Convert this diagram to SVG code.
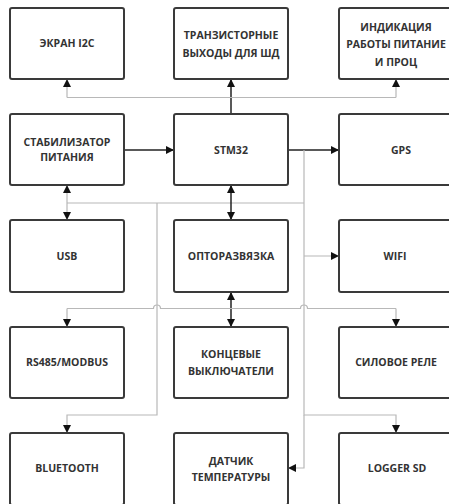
<svg xmlns="http://www.w3.org/2000/svg" width="449" height="504" viewBox="0 0 449 504">
<defs>
<marker id="ah" viewBox="0 0 10 10" refX="10" refY="5" markerWidth="8" markerHeight="8" markerUnits="userSpaceOnUse" orient="auto-start-reverse">
<path d="M0,0 L10,5 L0,10 Z" fill="#111"/>
</marker>
<style>
.box{fill:#fff;stroke:#3a3a3a;stroke-width:2}
.t{font-family:"Open Sans","Liberation Sans",sans-serif;font-weight:bold;font-size:10.5px;fill:#333;text-anchor:middle}
.dk{fill:none;stroke:#222;stroke-width:1.5}
.gr{fill:none;stroke:#b8b8b8;stroke-width:1.2}
</style>
</defs>
<rect width="449" height="504" fill="#fff"/>
<g id="connectors">
<path class="dk" d="M231,114 V79" marker-end="url(#ah)"/>
<path class="gr" d="M67,97.5 H396"/>
<path class="gr" d="M67,97.5 V79" marker-end="url(#ah)"/>
<path class="gr" d="M396,97.5 V79" marker-end="url(#ah)"/>
<path class="dk" d="M124,150 H174" marker-end="url(#ah)"/>
<path class="dk" d="M288,150 H339" marker-end="url(#ah)"/>
<path class="gr" d="M304,150 V415 H396 V433" marker-end="url(#ah)"/>
<path class="gr" d="M304,415 V468 H288" marker-end="url(#ah)"/>
<path class="gr" d="M304,256 H339" marker-end="url(#ah)"/>
<path class="gr" d="M67,203 H304"/>
<path class="gr" d="M67,203 V185" marker-end="url(#ah)"/>
<path class="gr" d="M67,203 V220" marker-end="url(#ah)"/>
<path class="gr" d="M157,203 V415 H67 V433" marker-end="url(#ah)"/>
<path class="dk" d="M231,185 V220" marker-start="url(#ah)" marker-end="url(#ah)"/>
<path class="dk" d="M231,292 V327" marker-start="url(#ah)" marker-end="url(#ah)"/>
<path class="gr" d="M67,308.5 H153.5 A3.5,3.5 0 0 1 160.5,308.5 H300.5 A3.5,3.5 0 0 1 307.5,308.5 H396"/>
<path class="gr" d="M67,308.5 V327" marker-end="url(#ah)"/>
<path class="gr" d="M396,308.5 V327" marker-end="url(#ah)"/>
</g>
<g id="n_ekran"><rect class="box" x="10" y="8" width="114" height="71" rx="2"/><text class="t" x="67" y="47">ЭКРАН I2C</text></g>
<g id="n_tranz"><rect class="box" x="174" y="8" width="114" height="71" rx="2"/><text class="t" x="231" y="39">ТРАНЗИСТОРНЫЕ</text><text class="t" x="231" y="56.5">ВЫХОДЫ ДЛЯ ШД</text></g>
<g id="n_indik"><rect class="box" x="339" y="8" width="114" height="71" rx="2"/><text class="t" x="396" y="30.5">ИНДИКАЦИЯ</text><text class="t" x="396" y="48">РАБОТЫ ПИТАНИЕ</text><text class="t" x="396" y="65.5">И ПРОЦ</text></g>
<g id="n_stab"><rect class="box" x="10" y="114" width="114" height="71" rx="2"/><text class="t" x="67" y="145.5">СТАБИЛИЗАТОР</text><text class="t" x="67" y="160.5">ПИТАНИЯ</text></g>
<g id="n_stm"><rect class="box" x="174" y="114" width="114" height="71" rx="2"/><text class="t" x="231" y="153.5">STM32</text></g>
<g id="n_gps"><rect class="box" x="339" y="114" width="114" height="71" rx="2"/><text class="t" x="401" y="153.5">GPS</text></g>
<g id="n_usb"><rect class="box" x="10" y="220" width="114" height="72" rx="2"/><text class="t" x="67" y="259.5">USB</text></g>
<g id="n_opto"><rect class="box" x="174" y="220" width="114" height="72" rx="2"/><text class="t" x="231" y="259.5">ОПТОРАЗВЯЗКА</text></g>
<g id="n_wifi"><rect class="box" x="339" y="220" width="114" height="72" rx="2"/><text class="t" x="395" y="259.5">WIFI</text></g>
<g id="n_rs485"><rect class="box" x="10" y="327" width="114" height="71" rx="2"/><text class="t" x="67" y="366">RS485/MODBUS</text></g>
<g id="n_konc"><rect class="box" x="174" y="327" width="114" height="71" rx="2"/><text class="t" x="231" y="358">КОНЦЕВЫЕ</text><text class="t" x="231" y="374.5">ВЫКЛЮЧАТЕЛИ</text></g>
<g id="n_rele"><rect class="box" x="339" y="327" width="114" height="71" rx="2"/><text class="t" x="396" y="366">СИЛОВОЕ РЕЛЕ</text></g>
<g id="n_bt"><rect class="box" x="10" y="433" width="114" height="72" rx="2"/><text class="t" x="67" y="472">BLUETOOTH</text></g>
<g id="n_temp"><rect class="box" x="174" y="433" width="114" height="72" rx="2"/><text class="t" x="231" y="464.5">ДАТЧИК</text><text class="t" x="231" y="481">ТЕМПЕРАТУРЫ</text></g>
<g id="n_sd"><rect class="box" x="339" y="433" width="114" height="72" rx="2"/><text class="t" x="397" y="472">LOGGER SD</text></g>
</svg>
